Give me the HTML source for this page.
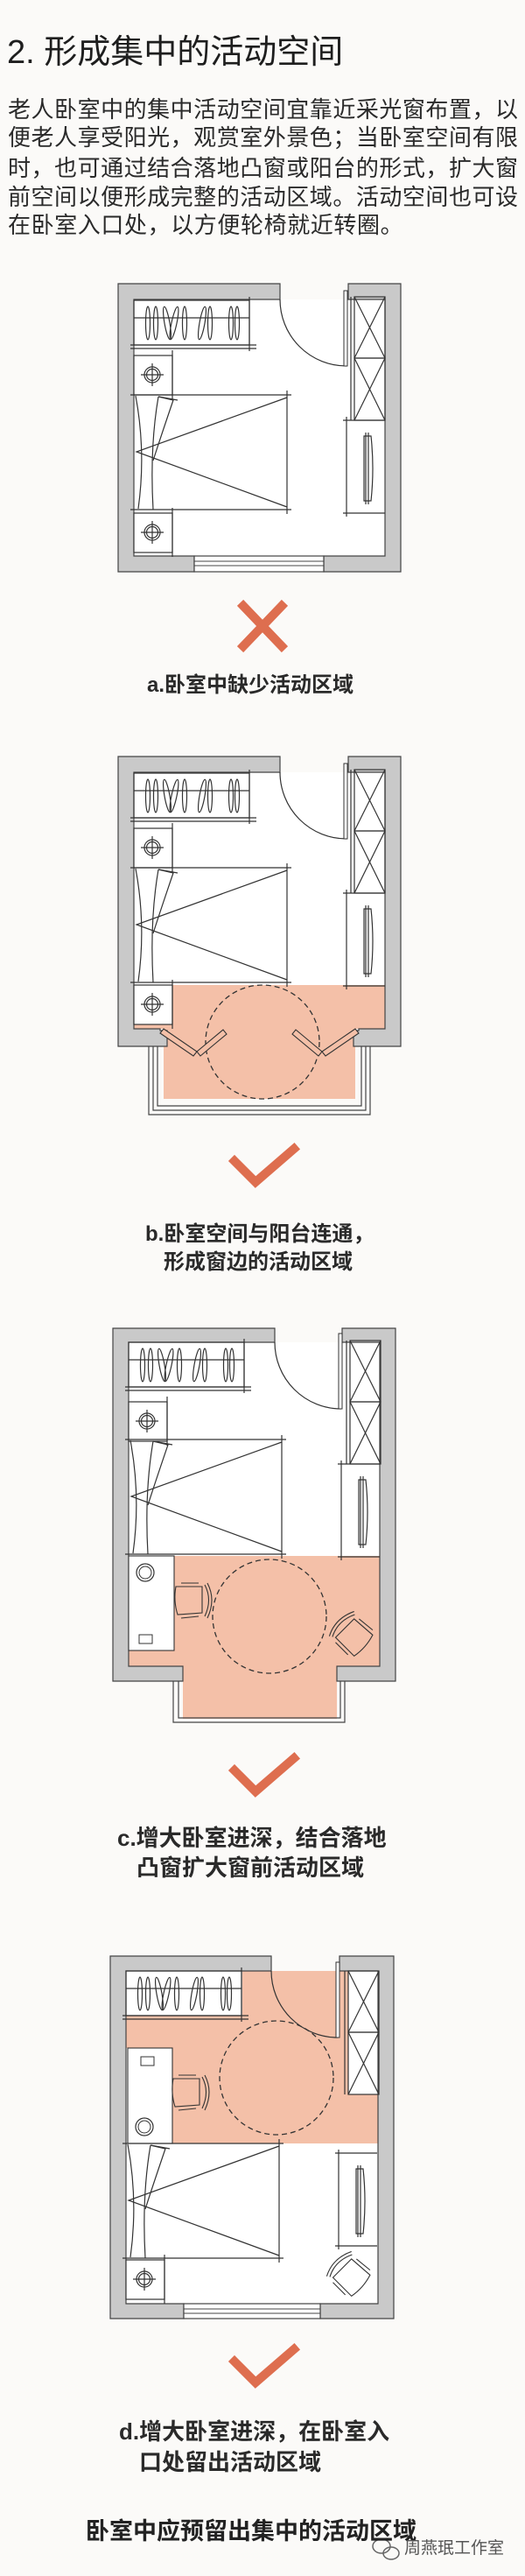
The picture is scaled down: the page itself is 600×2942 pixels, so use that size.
<!DOCTYPE html>
<html><head><meta charset="utf-8">
<style>
html,body{margin:0;padding:0;background:#fbfaf8;}
#pg{position:relative;width:600px;height:2942px;overflow:hidden;background:#fbfaf8;font-family:"Liberation Sans","Noto Sans CJK SC",sans-serif;color:#222;}
.t{position:absolute;white-space:nowrap;}
.body{left:9px;width:583px;font-size:26px;line-height:30px;text-align:justify;text-align-last:justify;color:#2a2a2a;}
.cap{font-weight:bold;font-size:24px;line-height:30px;color:#2a2a2a;}
svg{position:absolute;left:0;top:0;}
</style></head><body><div id="pg">
<svg width="600" height="2942" viewBox="0 0 600 2942">
<defs>
<g id="closet" fill="none" stroke="#333" stroke-width="1.2">
<rect x="0" y="0" width="132" height="51"/>
<line x1="0" y1="20" x2="132" y2="20"/>
<line x1="-4" y1="51" x2="140" y2="51"/><line x1="-4" y1="55" x2="140" y2="55"/>
<line x1="132" y1="-4" x2="132" y2="58"/>
<ellipse cx="16" cy="26" rx="2.5" ry="19"/><ellipse cx="25" cy="26" rx="2.5" ry="19"/>
<ellipse cx="38" cy="26" rx="3" ry="19" transform="rotate(-10 38 26)"/><ellipse cx="46" cy="26" rx="3" ry="19" transform="rotate(12 46 26)"/>
<ellipse cx="58" cy="26" rx="2.5" ry="19"/><ellipse cx="78" cy="26" rx="3" ry="19" transform="rotate(10 78 26)"/>
<ellipse cx="87" cy="26" rx="2.5" ry="19"/><ellipse cx="111" cy="26" rx="2.5" ry="19"/><ellipse cx="118" cy="26" rx="2.5" ry="19"/>
</g>
<g id="ns" stroke="#333" stroke-width="1.2">
<rect x="0" y="0" width="44" height="45" fill="#fff"/>
<line x1="44" y1="-6" x2="44" y2="50" />
<circle cx="21" cy="22" r="9" fill="none"/><circle cx="21" cy="22" r="6.5" fill="none"/>
<line x1="21" y1="9" x2="21" y2="35"/><line x1="8" y1="22" x2="34" y2="22"/>
</g>
<g id="bed" fill="none" stroke="#333" stroke-width="1.2">
<line x1="-4" y1="0" x2="180" y2="0"/><line x1="-4" y1="131" x2="180" y2="131"/>
<line x1="175" y1="-5" x2="175" y2="136"/>
<polyline points="175,3 3,65 175,128"/>
<path d="M2,1 Q14,65 5,130"/><path d="M28,2 Q18,60 22,131"/>
<path d="M28,2 L45,6 Q30,50 22,75"/><line x1="28" y1="2" x2="50" y2="6"/>
</g>
<g id="ward" fill="none" stroke="#333" stroke-width="1.2">
<rect x="0" y="0" width="35" height="70"/><rect x="0" y="70" width="35" height="71"/>
<line x1="0" y1="0" x2="35" y2="70"/><line x1="35" y1="0" x2="0" y2="70"/>
<line x1="0" y1="70" x2="35" y2="141"/><line x1="35" y1="70" x2="0" y2="141"/>
<line x1="-4" y1="0" x2="-4" y2="141"/>
</g>
<g id="tv" fill="none" stroke="#333" stroke-width="1.2">
<line x1="0" y1="-4" x2="0" y2="110"/><line x1="-4" y1="0" x2="44" y2="0"/><line x1="-4" y1="106" x2="44" y2="106"/>
<path d="M20,18 L28,18 Q32,55 28,92 L20,92 Z"/><line x1="22" y1="14" x2="22" y2="96"/><line x1="25" y1="14" x2="25" y2="96"/>
</g>
<g id="chair" fill="none" stroke="#333" stroke-width="1.1">
<path d="M0,4 Q-3,20 2,36 L30,34 L30,4 Z"/>
<path d="M33,2 Q42,19 33,38"/><path d="M36,0 Q46,19 36,40"/>
<line x1="6" y1="0" x2="26" y2="0"/><line x1="6" y1="40" x2="26" y2="38"/>
</g>
<g id="mark"></g>
</defs>

<!-- ===== PLAN A ===== -->
<g transform="translate(135,324)">
<rect x="18" y="18" width="287" height="293" fill="#fff"/>
<g fill="#c9c9c9" stroke="#444" stroke-width="1.2">
<path d="M0,0 H185 V18 H18 V311 H87 V329 H0 Z"/>
<path d="M263,0 H323 V329 H235 V311 H305 V18 H263 Z"/>
</g>
<rect x="87" y="311" width="148" height="18" fill="#fff" stroke="#444" stroke-width="1.2"/>
<line x1="87" y1="317" x2="235" y2="317" stroke="#444" stroke-width="1"/><line x1="87" y1="322" x2="235" y2="322" stroke="#444" stroke-width="1"/>
<path d="M185,18 A76,76 0 0 0 261,94" fill="none" stroke="#333" stroke-width="1.2"/>
<rect x="258" y="8" width="4" height="86" fill="#fff" stroke="#333" stroke-width="1"/>
<use href="#closet" x="18" y="19"/>
<use href="#ns" x="18" y="82"/>
<use href="#bed" x="18" y="127"/>
<use href="#ns" x="18" y="262"/>
<use href="#ward" x="270" y="15"/>
<use href="#tv" x="261" y="156"/>
</g>
<g stroke="#de6e4f" stroke-width="10" stroke-linecap="square">
<line x1="278" y1="692" x2="322" y2="738"/><line x1="322" y1="692" x2="278" y2="738"/>
</g>

<!-- ===== PLAN B ===== -->
<g transform="translate(135,864)">
<rect x="18" y="18" width="287" height="293" fill="#fff"/>
<path d="M62,261 H305 V311 H271 V391 H52 V311 H18 V306 H62 Z" fill="#f4c0a8"/>
<g fill="none" stroke="#444" stroke-width="1.2">
<path d="M35,331 V409 H288 V331"/><path d="M40,331 V404 H283 V331"/><path d="M45,331 V399 H278 V331"/>
</g>
<g fill="#c9c9c9" stroke="#444" stroke-width="1.2">
<path d="M0,0 H185 V18 H18 V311 H48 V313 H56 V331 H0 Z"/>
<path d="M263,0 H323 V331 H269 V313 H275 V311 H305 V18 H263 Z"/>
</g>
<circle cx="165" cy="326" r="65" fill="none" stroke="#333" stroke-width="1.3" stroke-dasharray="6,4"/>
<g fill="#f4c0a8" stroke="#333" stroke-width="1.1">
<path d="M52,311 L90,337 L86,342 L48,316 Z"/><path d="M90,337 L120,312 L124,317 L94,342 Z"/>
<path d="M271,311 L233,337 L237,342 L275,316 Z"/><path d="M233,337 L203,312 L199,317 L229,342 Z"/>
</g>
<path d="M185,18 A76,76 0 0 0 261,94" fill="none" stroke="#333" stroke-width="1.2"/>
<rect x="258" y="8" width="4" height="86" fill="#fff" stroke="#333" stroke-width="1"/>
<use href="#closet" x="18" y="19"/>
<use href="#ns" x="18" y="82"/>
<use href="#bed" x="18" y="127"/>
<use href="#ns" x="18" y="261"/>
<use href="#ward" x="270" y="15"/>
<use href="#tv" x="261" y="156"/>
</g>
<polyline points="268,1326 292,1350 336,1312" fill="none" stroke="#de6e4f" stroke-width="10" stroke-linecap="square"/>

<!-- ===== PLAN C ===== -->
<g transform="translate(129,1517)">
<rect x="18" y="16" width="287" height="370" fill="#fff"/>
<path d="M70,260 H306 V386 H256 V446 H80 V386 H18 V368 H70 Z" fill="#f4c0a8"/>
<g fill="none" stroke="#444" stroke-width="1.2">
<path d="M69,403 V450 H265 V403"/><path d="M75,403 V445 H260 V403"/>
</g>
<g fill="#c9c9c9" stroke="#444" stroke-width="1.2">
<path d="M0,0 H185 V16 H18 V386 H80 V403 H0 Z"/>
<path d="M262,0 H323 V403 H256 V386 H305 V16 H262 Z"/>
</g>
<rect x="18" y="260" width="52" height="108" fill="#fff" stroke="#333" stroke-width="1.1"/>
<circle cx="37" cy="279" r="10" fill="none" stroke="#333" stroke-width="1.2"/><circle cx="37" cy="279" r="7" fill="none" stroke="#333"/>
<rect x="30" y="350" width="15" height="10" fill="none" stroke="#333"/>
<circle cx="179" cy="329" r="65" fill="none" stroke="#333" stroke-width="1.3" stroke-dasharray="6,4"/>
<use href="#chair" x="72" y="291"/>
<use href="#chair" transform="translate(275,351) rotate(-135) translate(-17,-20)"/>
<path d="M185,16 A76,76 0 0 0 261,92" fill="none" stroke="#333" stroke-width="1.2"/>
<rect x="258" y="6" width="4" height="86" fill="#fff" stroke="#333" stroke-width="1"/>
<use href="#closet" x="18" y="16"/>
<use href="#ns" x="18" y="84"/>
<use href="#bed" x="18" y="127"/>
<use href="#ward" x="271" y="14"/>
<use href="#tv" x="261" y="155"/>
</g>
<polyline points="268,2022 292,2046 336,2008" fill="none" stroke="#de6e4f" stroke-width="10" stroke-linecap="square"/>

<!-- ===== PLAN D ===== -->
<g transform="translate(126,2234)">
<rect x="18" y="17" width="288" height="380" fill="#fff"/>
<path d="M151,17 H272 V158 H306 V214 H71 V105 H18 V68 H151 Z" fill="#f4c0a8"/>
<g fill="#c9c9c9" stroke="#444" stroke-width="1.2">
<path d="M0,0 H184 V17 H18 V397 H84 V414 H0 Z"/>
<path d="M262,0 H324 V414 H240 V397 H306 V17 H262 Z"/>
</g>
<rect x="84" y="397" width="156" height="17" fill="#fff" stroke="#444" stroke-width="1.2"/>
<line x1="84" y1="403" x2="240" y2="403" stroke="#444"/><line x1="84" y1="408" x2="240" y2="408" stroke="#444"/>
<rect x="20" y="105" width="51" height="109" fill="#fff" stroke="#333" stroke-width="1.1"/>
<rect x="35" y="115" width="15" height="10" fill="none" stroke="#333"/>
<circle cx="39" cy="195" r="10" fill="none" stroke="#333" stroke-width="1.2"/><circle cx="39" cy="195" r="7" fill="none" stroke="#333"/>
<circle cx="190" cy="139" r="65" fill="none" stroke="#333" stroke-width="1.3" stroke-dasharray="6,4"/>
<use href="#chair" x="72" y="136"/>
<path d="M184,17 A76,76 0 0 0 260,93" fill="none" stroke="#333" stroke-width="1.2"/>
<rect x="258" y="7" width="4" height="86" fill="#fff" stroke="#333" stroke-width="1"/>
<use href="#closet" x="18" y="17"/>
<use href="#ward" x="272" y="17"/>
<use href="#bed" x="18" y="214"/>
<use href="#ns" x="18" y="347"/>
<use href="#tv" x="261" y="225"/>
<use href="#chair" transform="translate(275,365) rotate(-135) translate(-17,-20)"/>
</g>
<polyline points="268,2697 292,2721 336,2683" fill="none" stroke="#de6e4f" stroke-width="10" stroke-linecap="square"/>

<!-- watermark icon -->
<g fill="none" stroke="#666" stroke-width="1.5">
<ellipse cx="436" cy="2908" rx="10" ry="8"/><ellipse cx="447" cy="2916" rx="9" ry="7"/>
</g>
</svg>

<div class="t" style="left:8px;top:38px;font-size:38px;line-height:44px;color:#1e1e1e;">2. 形成集中的活动空间</div>
<div class="t body" style="top:110px;">老人卧室中的集中活动空间宜靠近采光窗布置，以</div>
<div class="t body" style="top:142px;">便老人享受阳光，观赏室外景色；当卧室空间有限</div>
<div class="t body" style="top:177px;">时，也可通过结合落地凸窗或阳台的形式，扩大窗</div>
<div class="t body" style="top:210px;">前空间以便形成完整的活动区域。活动空间也可设</div>
<div class="t" style="left:9px;top:242px;font-size:26px;line-height:30px;letter-spacing:0.6px;color:#2a2a2a;">在卧室入口处，以方便轮椅就近转圈。</div>

<div class="t cap" style="left:168px;top:768px;">a.卧室中缺少活动区域</div>
<div class="t cap" style="left:166px;top:1395px;">b.卧室空间与阳台连通，</div>
<div class="t cap" style="left:187px;top:1427px;">形成窗边的活动区域</div>
<div class="t cap" style="left:134px;top:2084px;font-size:26px;">c.增大卧室进深，结合落地</div>
<div class="t cap" style="left:156px;top:2118px;font-size:26px;">凸窗扩大窗前活动区域</div>
<div class="t cap" style="left:136px;top:2762px;font-size:26px;">d.增大卧室进深，在卧室入</div>
<div class="t cap" style="left:159px;top:2797px;font-size:26px;">口处留出活动区域</div>
<div class="t" style="left:98px;top:2875px;font-size:27px;font-weight:bold;line-height:32px;color:#222;">卧室中应预留出集中的活动区域</div>
<div class="t" style="left:462px;top:2900px;font-size:19px;line-height:22px;color:#555;">周燕珉工作室</div>
</div></body></html>
